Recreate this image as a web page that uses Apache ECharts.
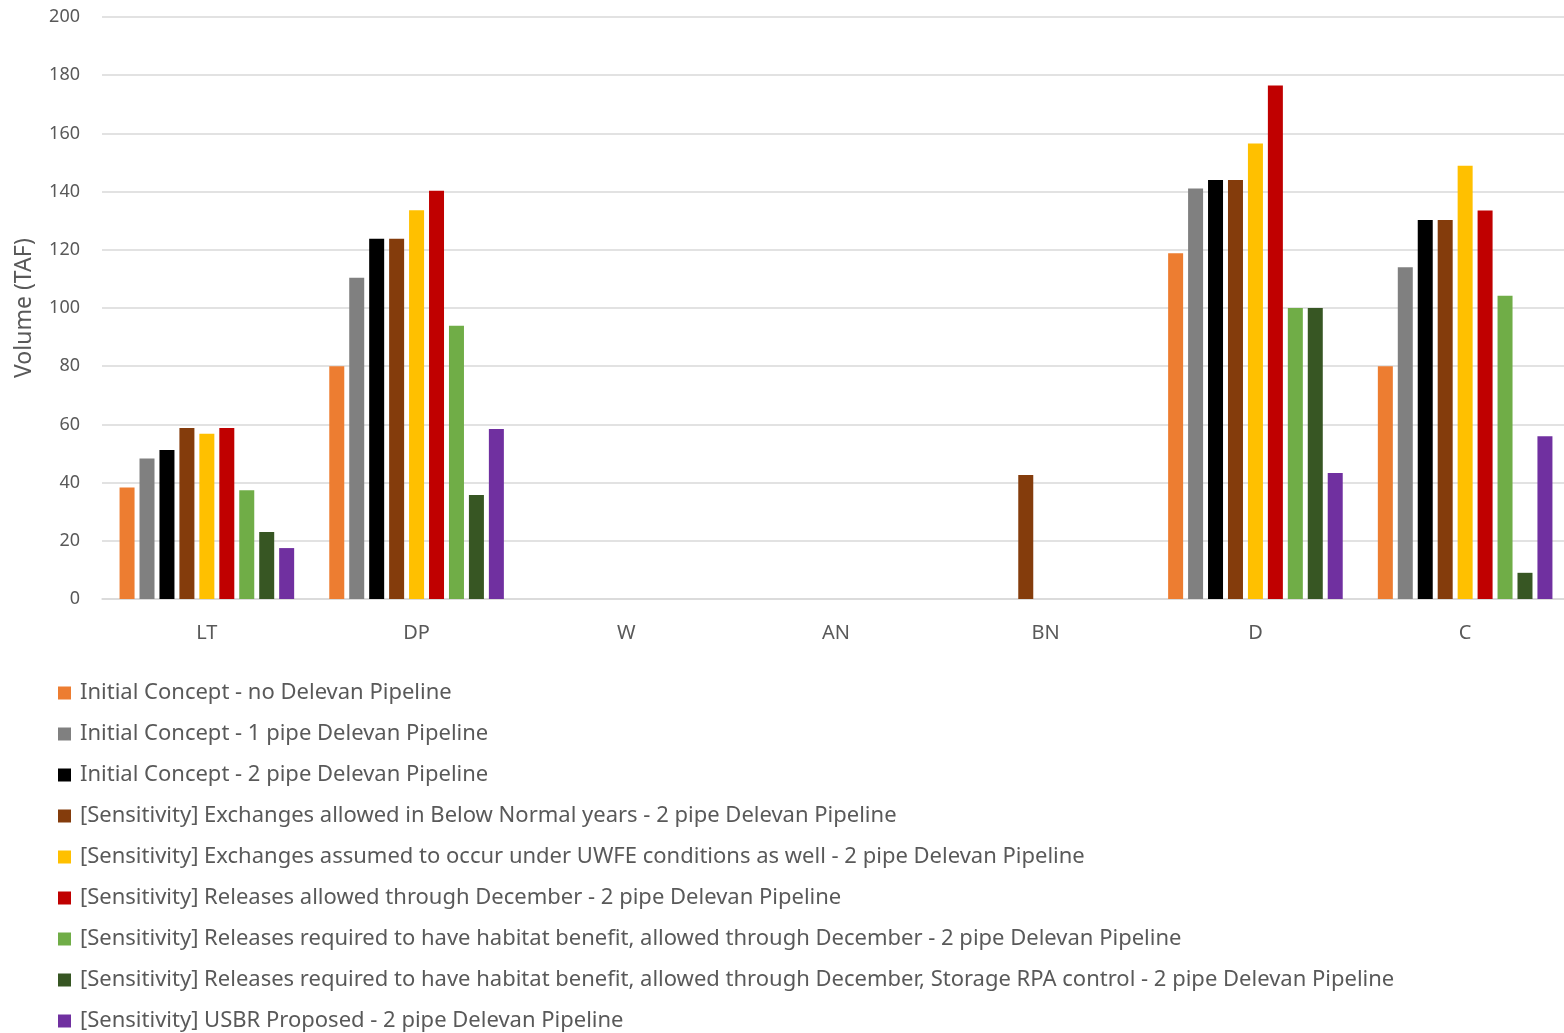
<!DOCTYPE html>
<html>
<head>
<meta charset="utf-8">
<script src="https://cdn.jsdelivr.net/npm/echarts@6/dist/echarts.min.js"></script>
<style>
  html, body { margin: 0; padding: 0; background: #fff; overflow: hidden; }
  /* the source chart is cut off a few pixels past the right edge */
  #chart { width: 1570px; height: 1033px; }
</style>
</head>
<body>
<div id="chart"></div>
<script>
const categories = ['LT', 'DP', 'W', 'AN', 'BN', 'D', 'C']

const seriesNames = [
  'Initial Concept - no Delevan Pipeline',
  'Initial Concept - 1 pipe Delevan Pipeline',
  'Initial Concept - 2 pipe Delevan Pipeline',
  '[Sensitivity] Exchanges allowed in Below Normal years - 2 pipe Delevan Pipeline',
  '[Sensitivity] Exchanges assumed to occur under UWFE conditions as well - 2 pipe Delevan Pipeline',
  '[Sensitivity] Releases allowed through December - 2 pipe Delevan Pipeline',
  '[Sensitivity] Releases required to have habitat benefit, allowed through December - 2 pipe Delevan Pipeline',
  '[Sensitivity] Releases required to have habitat benefit, allowed through December, Storage RPA control - 2 pipe Delevan Pipeline',
  '[Sensitivity] USBR Proposed - 2 pipe Delevan Pipeline'
]

const colors = ['#ED7D31', '#808080', '#000000', '#843C0C', '#FFC000', '#C00000', '#70AD47', '#375623', '#7030A0']

// one array per series, in category order LT, DP, W, AN, BN, D, C
const noPipe = [38.3, 80, null, null, null, 118.8, 80]
const onePipe = [48.3, 110.4, null, null, null, 141.1, 114]
const twoPipe = [51.2, 123.8, null, null, null, 144, 130.2]
const belowNormal = [58.8, 123.8, null, null, 42.6, 144, 130.2]
const uwfe = [56.8, 133.6, null, null, null, 156.5, 148.9]
const december = [58.8, 140.3, null, null, null, 176.5, 133.5]
const habitat = [37.4, 93.9, null, null, null, 100, 104.2]
const habitatRpa = [23, 35.7, null, null, null, 100, 9]
const usbr = [17.5, 58.4, null, null, null, 43.3, 55.9]

const seriesValues = [noPipe, onePipe, twoPipe, belowNormal, uwfe, december, habitat, habitatRpa, usbr]

const yTicks = { min: 0, max: 200, interval: 20 }

const chart = echarts.init(document.getElementById('chart'))
const textColor = '#595959'
const fontFamily = 'Noto Sans'

const option = {
  animation: false,
  color: colors,
  grid: {
    left: 102,
    right: 0,
    top: 17,
    bottom: 434
  },
  legend: {
    orient: 'vertical',
    left: 53,
    top: 677,
    height: 400,
    itemWidth: 13,
    itemHeight: 13,
    itemGap: 19,
    icon: 'rect',
    data: seriesNames,
    textStyle: {
      color: textColor,
      fontSize: 22,
      lineHeight: 22,
      fontFamily: fontFamily,
      padding: [0, 0, 0, 4]
    }
  },
  xAxis: {
    type: 'category',
    data: categories,
    axisTick: { show: false },
    axisLine: { lineStyle: { color: '#d9d9d9', width: 1.5 } },
    axisLabel: {
      color: textColor,
      fontSize: 20,
      fontFamily: fontFamily,
      margin: 24
    }
  },
  yAxis: {
    type: 'value',
    min: yTicks.min,
    max: yTicks.max,
    interval: yTicks.interval,
    name: 'Volume (TAF)',
    nameLocation: 'middle',
    nameGap: 66,
    nameTextStyle: {
      color: textColor,
      fontSize: 23,
      fontFamily: fontFamily
    },
    axisLine: { show: false },
    axisTick: { show: false },
    axisLabel: {
      color: textColor,
      fontSize: 18,
      fontFamily: fontFamily,
      margin: 22
    },
    splitLine: { lineStyle: { color: '#d9d9d9', width: 1.5 } }
  },
  series: seriesNames.map((name, i) => ({
    name: name,
    type: 'bar',
    data: seriesValues[i],
    barWidth: 15,
    barGap: '33%'
  }))
}

chart.setOption(option)
</script>
</body>
</html>
